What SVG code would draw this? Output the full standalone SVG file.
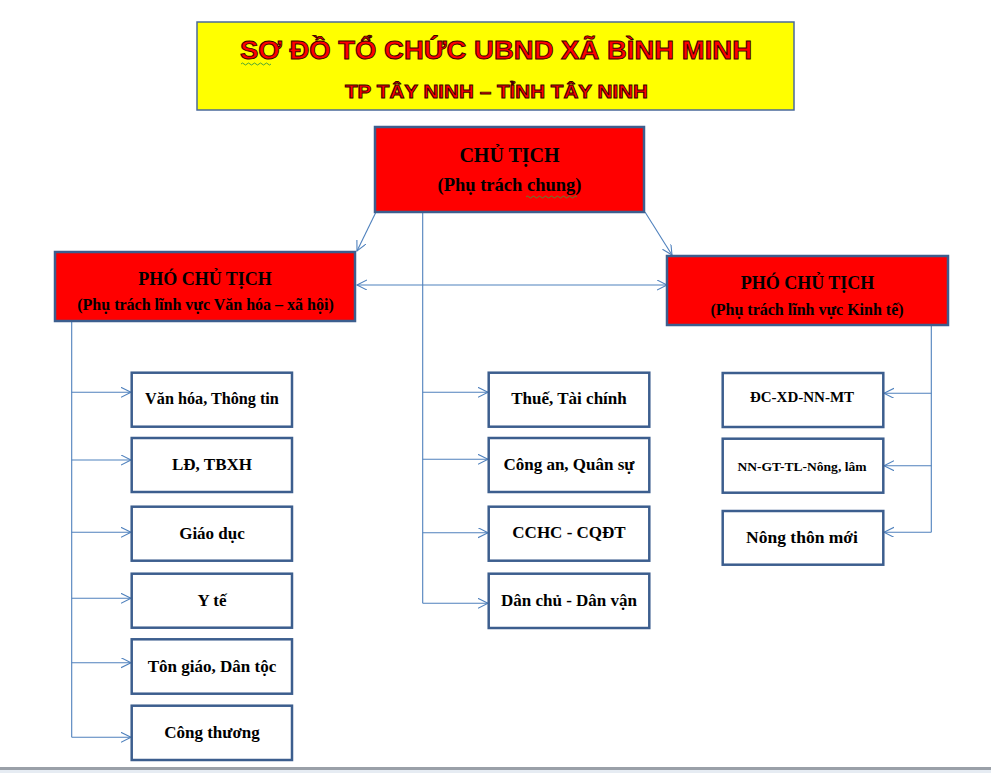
<svg xmlns="http://www.w3.org/2000/svg" width="991" height="773" viewBox="0 0 991 773">
<defs>
<style>
.title{font-family:"Liberation Sans",Arial,sans-serif;font-weight:bold;fill:#ff0000;stroke:#3a0000;stroke-width:0.9;text-anchor:middle}
.red{fill:#ff0000;stroke:#3c5e8e;stroke-width:2.5}
.box{fill:#ffffff;stroke:#3c5e8e;stroke-width:2.5}
.t{font-family:"Liberation Serif","Times New Roman",serif;font-weight:bold;fill:#000;text-anchor:middle}
.c{fill:none;stroke:#4f81bd;stroke-width:1.1}
.wavy{fill:none;stroke:#3a9a3a;stroke-width:0.9}
</style>
<marker id="arr" markerUnits="userSpaceOnUse" markerWidth="12" markerHeight="12" refX="10" refY="5" orient="auto-start-reverse" viewBox="0 0 12 12">
<path d="M0,0 L10,5 L0,10" fill="none" stroke="#4f81bd" stroke-width="1.1"/>
</marker>
</defs>
<rect x="0" y="0" width="991" height="773" fill="#ffffff"/>

<g id="title">
<rect x="197" y="22" width="597" height="88" fill="#ffff00" stroke="#4a6a9a" stroke-width="1.5"/>
<text class="title" x="496" y="59" font-size="25" textLength="512" lengthAdjust="spacingAndGlyphs">SƠ ĐỒ TỔ CHỨC UBND XÃ BÌNH MINH</text>
<text class="title" x="496.5" y="98" font-size="18" textLength="303" lengthAdjust="spacingAndGlyphs">TP TÂY NINH  – TỈNH TÂY NINH</text>
<path class="wavy" d="M241,64 q1.5,-2 3,0 t3,0 t3,0 t3,0 t3,0 t3,0 t3,0 t3,0 t3,0 t3,0"/>
</g>

<g id="connectors">
<line class="c" x1="376" y1="212" x2="357" y2="251" marker-end="url(#arr)"/>
<line class="c" x1="645" y1="212" x2="672" y2="255" marker-end="url(#arr)"/>
<line class="c" x1="357" y1="285" x2="667" y2="285" marker-start="url(#arr)" marker-end="url(#arr)"/>
<!-- left column -->
<polyline class="c" points="71.7,321 71.7,737.3"/>
<line class="c" x1="71.7" y1="392.3" x2="131" y2="392.3" marker-end="url(#arr)"/>
<line class="c" x1="71.7" y1="460" x2="131" y2="460" marker-end="url(#arr)"/>
<line class="c" x1="71.7" y1="532.3" x2="131" y2="532.3" marker-end="url(#arr)"/>
<line class="c" x1="71.7" y1="598.3" x2="131" y2="598.3" marker-end="url(#arr)"/>
<line class="c" x1="71.7" y1="662.7" x2="131" y2="662.7" marker-end="url(#arr)"/>
<line class="c" x1="71.7" y1="737.3" x2="131" y2="737.3" marker-end="url(#arr)"/>
<!-- middle column -->
<polyline class="c" points="422.7,213 422.7,603.3"/>
<line class="c" x1="422.7" y1="392.3" x2="488" y2="392.3" marker-end="url(#arr)"/>
<line class="c" x1="422.7" y1="459.3" x2="488" y2="459.3" marker-end="url(#arr)"/>
<line class="c" x1="422.7" y1="532.7" x2="488" y2="532.7" marker-end="url(#arr)"/>
<line class="c" x1="422.7" y1="603.3" x2="488" y2="603.3" marker-end="url(#arr)"/>
<!-- right column -->
<polyline class="c" points="931.3,325 931.3,532.3"/>
<line class="c" x1="931.3" y1="393.3" x2="884" y2="393.3" marker-end="url(#arr)"/>
<line class="c" x1="931.3" y1="465.7" x2="884" y2="465.7" marker-end="url(#arr)"/>
<line class="c" x1="931.3" y1="532.3" x2="884" y2="532.3" marker-end="url(#arr)"/>
</g>

<g id="chu-tich">
<rect class="red" x="375" y="127" width="269" height="85"/>
<text class="t" x="509.5" y="162" font-size="20">CHỦ TỊCH</text>
<text class="t" x="509.5" y="191" font-size="18.5" font-weight="normal" style="font-weight:bold">(Phụ trách chung)</text>
<path class="wavy" d="M526,197 q1.5,-2 3,0 t3,0 t3,0 t3,0 t3,0 t3,0 t3,0 t3,0 t3,0 t3,0 t3,0 t3,0 t3,0 t3,0 t3,0 t3,0 t3,0"/>
</g>

<g id="pct-vhxh">
<rect class="red" x="55" y="252" width="300" height="69"/>
<text class="t" x="205" y="285" font-size="18">PHÓ CHỦ TỊCH</text>
<text class="t" x="205.5" y="310" font-size="16">(Phụ trách lĩnh vực Văn hóa – xã hội)</text>
</g>

<g id="pct-kt">
<rect class="red" x="667" y="256" width="281" height="69"/>
<text class="t" x="807.5" y="288.5" font-size="18">PHÓ CHỦ TỊCH</text>
<text class="t" x="807" y="315" font-size="16">(Phụ trách lĩnh vực Kinh tế)</text>
</g>

<g id="van-hoa">
<rect class="box" x="131.7" y="372.7" width="160.3" height="54"/>
<text class="t" x="212" y="403.5" font-size="16.2">Văn hóa, Thông tin</text>
</g>
<g id="ld-tbxh">
<rect class="box" x="131.7" y="438" width="160.3" height="54"/>
<text class="t" x="212" y="470" font-size="17">LĐ, TBXH</text>
</g>
<g id="giao-duc">
<rect class="box" x="131.7" y="506.7" width="160.3" height="54"/>
<text class="t" x="212" y="539" font-size="17">Giáo dục</text>
</g>
<g id="y-te">
<rect class="box" x="131.7" y="573.7" width="160.3" height="54"/>
<text class="t" x="212" y="605.7" font-size="17">Y tế</text>
</g>
<g id="ton-giao">
<rect class="box" x="131.7" y="639.3" width="160.3" height="54.4"/>
<text class="t" x="212" y="672.3" font-size="17">Tôn giáo, Dân tộc</text>
</g>
<g id="cong-thuong">
<rect class="box" x="131.7" y="705.7" width="160.3" height="54.3"/>
<text class="t" x="212" y="738.3" font-size="17">Công thương</text>
</g>

<g id="thue">
<rect class="box" x="488.7" y="372.7" width="160.6" height="54"/>
<text class="t" x="569" y="404.3" font-size="17">Thuế, Tài chính</text>
</g>
<g id="cong-an">
<rect class="box" x="488.7" y="438" width="160.6" height="54"/>
<text class="t" x="569" y="470" font-size="17">Công an, Quân sự</text>
</g>
<g id="cchc">
<rect class="box" x="488.7" y="506.7" width="160.6" height="54"/>
<text class="t" x="569" y="538.3" font-size="17">CCHC - CQĐT</text>
</g>
<g id="dan-chu">
<rect class="box" x="488.7" y="573.7" width="160.6" height="54.3"/>
<text class="t" x="569" y="605.7" font-size="17">Dân chủ - Dân vận</text>
</g>

<g id="dc-xd">
<rect class="box" x="722.7" y="373" width="160.6" height="54"/>
<text class="t" x="802" y="401.7" font-size="15">ĐC-XD-NN-MT</text>
</g>
<g id="nn-gt">
<rect class="box" x="722.7" y="438.7" width="160.6" height="54"/>
<text class="t" x="802" y="470.7" font-size="12.5" textLength="129" lengthAdjust="spacingAndGlyphs">NN-GT-TL-Nông, lâm</text>
</g>
<g id="nong-thon">
<rect class="box" x="722.7" y="511" width="160.6" height="53.7"/>
<text class="t" x="802" y="542.7" font-size="17.5">Nông thôn mới</text>
</g>

<rect x="0" y="767" width="991" height="3" fill="#9aa0a8"/>
<rect x="0" y="770" width="991" height="3" fill="#e6ecf3"/>
</svg>
